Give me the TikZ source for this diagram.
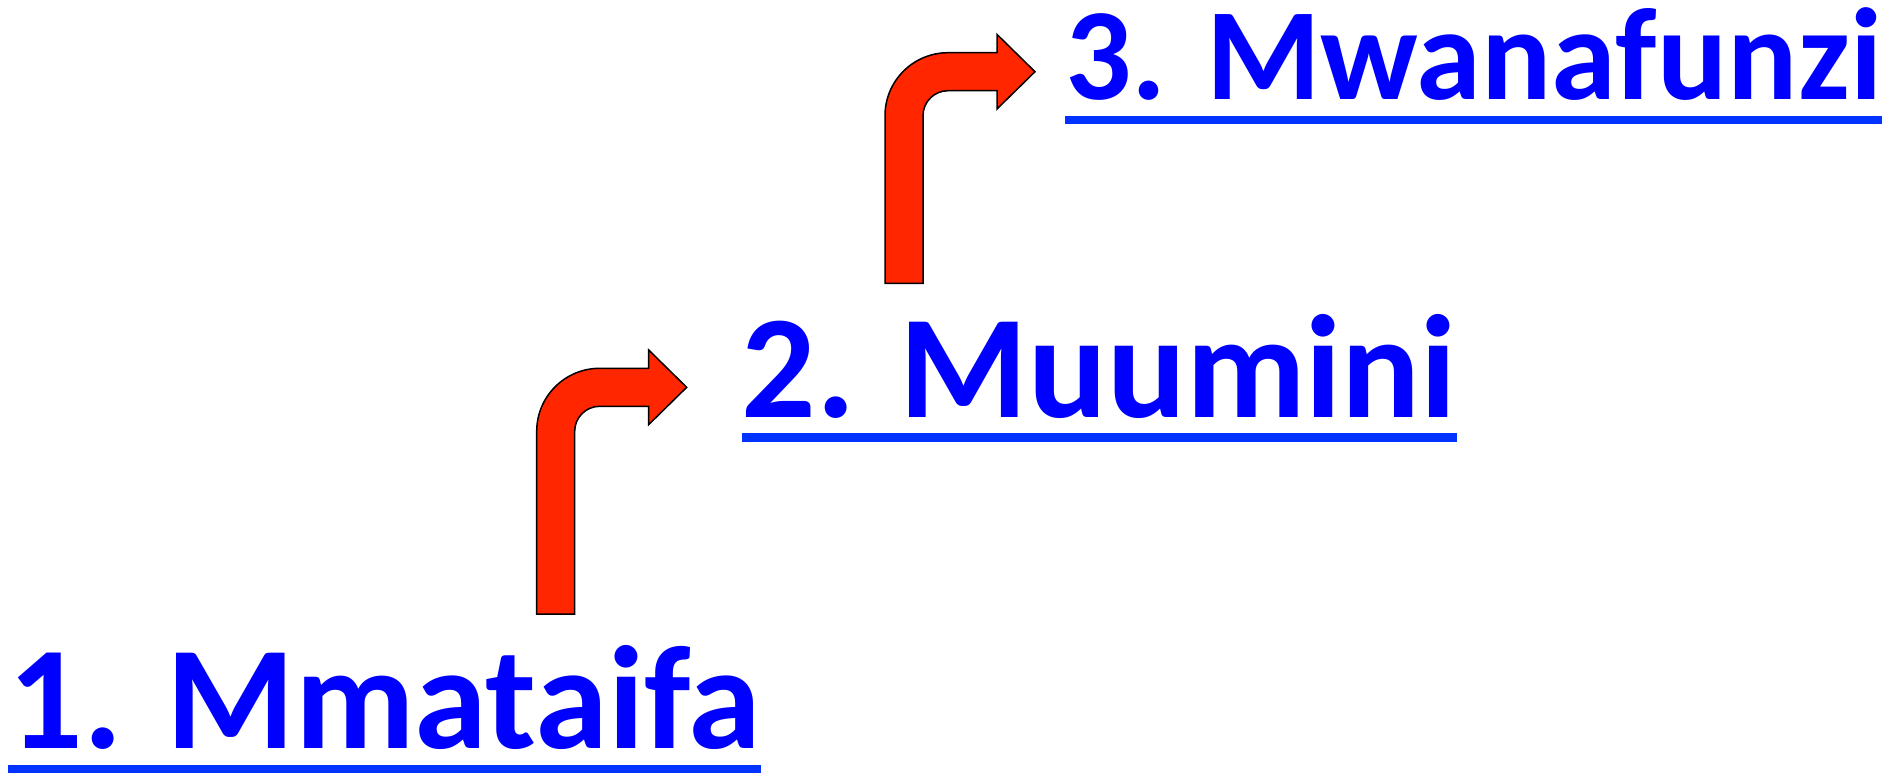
\documentclass[tikz,border=0pt]{standalone}
\usepackage{fontspec}
\setmainfont{Carlito}
\usepackage{tikz}
\definecolor{txtblue}{RGB}{0,0,255}
\definecolor{lineblue}{RGB}{0,51,255}
\definecolor{arrowred}{RGB}{255,38,0}

% bent arrow: #1 left of stem, #2 bottom of stem, #3 top of bar
\newcommand{\bentarrow}[3]{%
	\filldraw[turn] (#1,#2) -- (#1,{#3+63}) arc[start angle=180, end angle=270, radius=63]
		-- ({#1+112},#3) -- ({#1+112},{#3-18.3}) -- ({#1+150},{#3+19}) -- ({#1+112},{#3+56.3})
		-- ({#1+112},{#3+38}) -- ({#1+63},{#3+38}) arc[start angle=270, end angle=180, radius=25]
		-- ({#1+38},#2) -- cycle;}

\begin{document}
\begin{tikzpicture}[x=1pt, y=-1pt,
	item/.style={anchor=base west, inner sep=0pt, text=txtblue, font=\bfseries\fontsize{#1}{#1}\selectfont},
	item/.default=147,
	uline/.style={draw=lineblue, line width=8.6pt},
	turn/.style={fill=arrowred, draw=black, line width=1.5pt}]
	\useasboundingbox (0,0) rectangle (1901,772);
	% the three steps
	\node[item] (mmataifa) at (8.3,748.3) {1. Mmataifa};
	\node[item] (muumini) at (741.7,417) {2. Muumini};
	\node[item=131] (mwanafunzi) at (1065,99.3) {3. Mwanafunzi};
	\draw[uline] ([yshift=-20.5pt]mmataifa.base west) -- ([yshift=-20.5pt]mmataifa.base east);
	\draw[uline] ([yshift=-20.5pt]muumini.base west) -- ([yshift=-20.5pt]muumini.base east);
	\draw[uline] ([yshift=-20.5pt]mwanafunzi.base west) -- ([yshift=-20.5pt]mwanafunzi.base east);
	% arrows between them
	\bentarrow{536.7}{614}{368.3}
	\bentarrow{885}{283.3}{52.7}
\end{tikzpicture}
\end{document}
